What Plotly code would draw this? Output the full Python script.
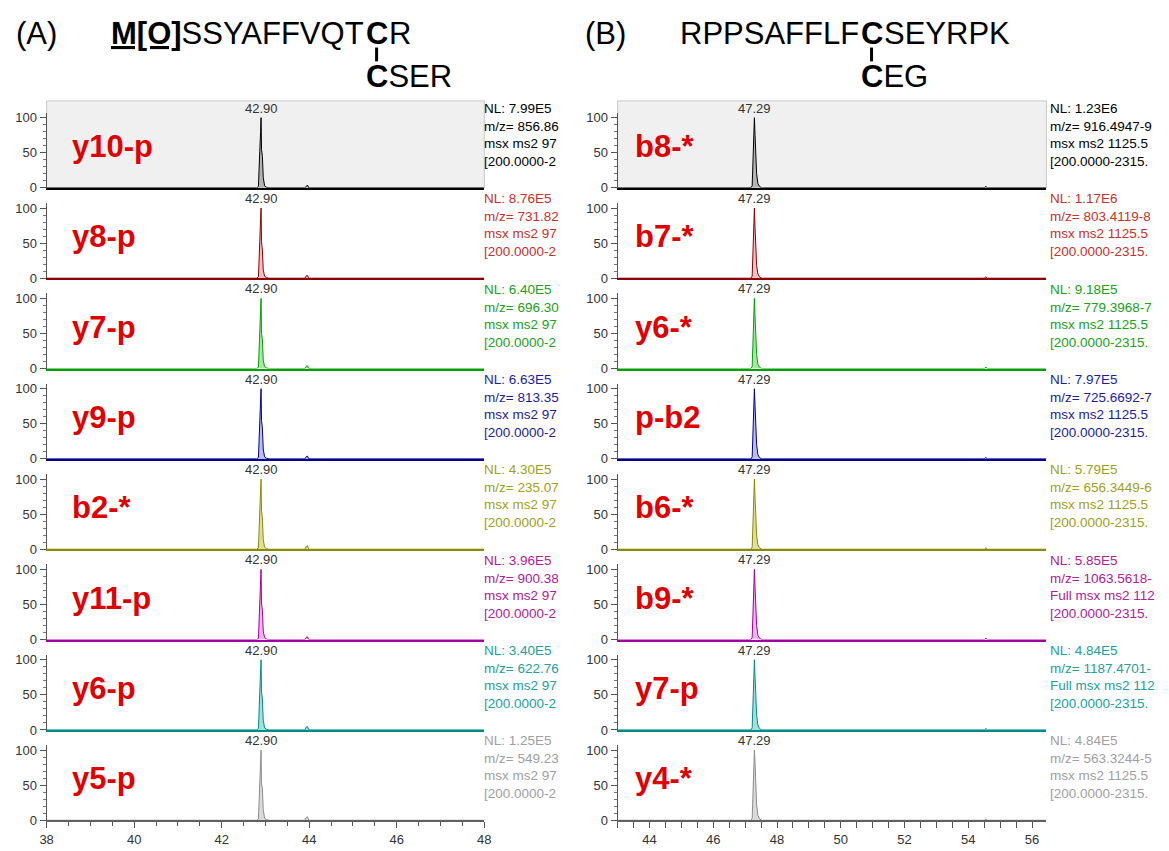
import plotly.graph_objects as go

# the page has an 8px body margin; the figure's right/bottom edges meet the window edge
OFF = 8
W, H = 1169 - OFF, 851 - OFF
FONT = "Liberation Sans, Arial, sans-serif"

# ---------------- data: panel A ----------------
times_A = [38.0, 42.80, 42.84, 42.86, 42.87, 42.89, 42.90, 42.91, 42.93, 42.95,
           42.98, 43.02, 43.08, 43.90, 43.93, 43.96, 43.99, 48.0]
int_A_y10p = [0, 0, 2, 50, 52, 80, 100, 55, 45, 15, 3, 1, 0, 0, 3, 4, 0, 0]
int_A_y8p = [0, 0, 2, 48, 55, 85, 100, 52, 40, 12, 3, 1, 0, 0, 3, 4, 0, 0]
int_A_y7p = [0, 0, 2, 50, 56, 84, 100, 50, 42, 12, 3, 1, 0, 0, 3, 4, 0, 0]
int_A_y9p = [0, 0, 2, 48, 55, 85, 100, 55, 44, 14, 3, 1, 0, 0, 3, 4, 0, 0]
int_A_b2 = [0, 0, 2, 50, 58, 86, 100, 54, 45, 14, 3, 1, 0, 0, 4, 5, 0, 0]
int_A_y11p = [0, 0, 2, 50, 55, 84, 100, 52, 42, 12, 3, 1, 0, 0, 3, 4, 0, 0]
int_A_y6p = [0, 0, 2, 52, 58, 86, 100, 55, 44, 14, 3, 1, 0, 0, 4, 5, 0, 0]
int_A_y5p = [0, 0, 2, 50, 55, 84, 100, 52, 45, 15, 3, 1, 0, 0, 4, 5, 0, 0]
intens_A = [int_A_y10p, int_A_y8p, int_A_y7p, int_A_y9p,
            int_A_b2, int_A_y11p, int_A_y6p, int_A_y5p]
labels_A = ["y10-p", "y8-p", "y7-p", "y9-p", "b2-*", "y11-p", "y6-p", "y5-p"]
nl_A = ["7.99E5", "8.76E5", "6.40E5", "6.63E5", "4.30E5", "3.96E5", "3.40E5", "1.25E5"]
mz_A = ["856.86", "731.82", "696.30", "813.35", "235.07", "900.38", "622.76", "549.23"]
scan_A = ["msx ms2 97"] * 8
range_A = ["[200.0000-2"] * 8
apex_A = "42.90"
apex_A_t = 42.90

# ---------------- data: panel B ----------------
times_B = [43.0, 47.18, 47.22, 47.25, 47.27, 47.29, 47.31, 47.33, 47.36, 47.40,
           47.45, 47.52, 54.50, 54.55, 54.60, 56.45]
int_B_b8 = [0, 0, 3, 55, 80, 100, 75, 45, 20, 6, 2, 0, 0, 2, 0, 0]
int_B_b7 = [0, 0, 3, 58, 82, 100, 72, 42, 18, 6, 2, 0, 0, 2, 0, 0]
int_B_y6 = [0, 0, 3, 55, 80, 100, 74, 44, 20, 6, 2, 0, 0, 2, 0, 0]
int_B_pb2 = [0, 0, 3, 60, 84, 100, 76, 45, 20, 6, 2, 0, 0, 2, 0, 0]
int_B_b6 = [0, 0, 3, 56, 80, 100, 74, 44, 19, 6, 2, 0, 0, 2, 0, 0]
int_B_b9 = [0, 0, 3, 58, 82, 100, 75, 45, 20, 6, 2, 0, 0, 2, 0, 0]
int_B_y7p = [0, 0, 3, 60, 85, 100, 76, 46, 21, 7, 2, 0, 0, 2, 0, 0]
int_B_y4 = [0, 0, 3, 62, 86, 100, 82, 50, 22, 7, 2, 0, 0, 2, 0, 0]
intens_B = [int_B_b8, int_B_b7, int_B_y6, int_B_pb2,
            int_B_b6, int_B_b9, int_B_y7p, int_B_y4]
labels_B = ["b8-*", "b7-*", "y6-*", "p-b2", "b6-*", "b9-*", "y7-p", "y4-*"]
nl_B = ["1.23E6", "1.17E6", "9.18E5", "7.97E5", "5.79E5", "5.85E5", "4.84E5", "4.84E5"]
mz_B = ["916.4947-9", "803.4119-8", "779.3968-7", "725.6692-7", "656.3449-6",
        "1063.5618-", "1187.4701-", "563.3244-5"]
scan_B = ["msx ms2 1125.5", "msx ms2 1125.5", "msx ms2 1125.5", "msx ms2 1125.5",
          "msx ms2 1125.5", "Full msx ms2 112", "Full msx ms2 112", "msx ms2 1125.5"]
range_B = ["[200.0000-2315."] * 8
apex_B = "47.29"
apex_B_t = 47.29

# ---------------- styles ----------------
line_colors = ["#000000", "#8b0000", "#00a000", "#00008b", "#8b8b00", "#a000a0", "#008b8b", "#8c8c8c"]
fill_colors = ["#b4b4b4", "#f4c0c0", "#a8e6a8", "#bcbcf0", "#dedea0", "#f2b4f2", "#a4dede", "#dadada"]
text_colors = ["#000000", "#c8302a", "#20a020", "#1c1ca0", "#a0a020", "#b0209c", "#20a0a0", "#a0a0a0"]
axis_colors = ["#000000", "#8b0000", "#00a000", "#00008b", "#8b8b00", "#a000a0", "#008b8b", "#606060"]
LABEL_RED = "#e00000"


def px(x):
    return (x - OFF) / W


def py(y):
    return 1 - (y - OFF) / H


base0, step, rowh = 188.0, 91.43, 76.0
panels = [
    dict(x0=40, x1=483, rng=[38, 48], tick0=38, times=times_A, intens=intens_A,
         labels=labels_A, nl=nl_A, mz=mz_A, scan=scan_A, rngtxt=range_A,
         apex=apex_A, apex_t=apex_A_t, lab_x=64, txt_x=481, minor_len=4),
    dict(x0=618, x1=1052, rng=[43, 56.45], tick0=44, times=times_B, intens=intens_B,
         labels=labels_B, nl=nl_B, mz=mz_B, scan=scan_B, rngtxt=range_B,
         apex=apex_B, apex_t=apex_B_t, lab_x=634, txt_x=1054, minor_len=6),
]

fig = go.Figure()
layout = dict(
    width=W, height=H,
    margin=dict(l=0, r=0, t=0, b=0),
    paper_bgcolor="white", plot_bgcolor="rgba(0,0,0,0)",
    showlegend=False,
    font=dict(family=FONT, size=13, color="#333333"),
)
annotations = []
shapes = []

k = 0
for p in panels:
    for i in range(8):
        k += 1
        base = base0 + i * step
        top = base - rowh
        xa = "xaxis" if k == 1 else f"xaxis{k}"
        ya = "yaxis" if k == 1 else f"yaxis{k}"
        xr = "x" if k == 1 else f"x{k}"
        yr = "y" if k == 1 else f"y{k}"
        last = i == 7
        xdict = dict(domain=[px(p["x0"]), px(p["x1"])], range=p["rng"], anchor=yr,
                     showline=True, linecolor=axis_colors[i], linewidth=2,
                     showgrid=False, zeroline=False, fixedrange=True)
        if last:
            xdict.update(ticks="outside", ticklen=6, tickcolor="#555555", tickwidth=1,
                         tick0=p["tick0"], dtick=2, showticklabels=True,
                         tickfont=dict(size=13, color="#333333", family=FONT),
                         minor=dict(ticks="outside", dtick=0.5, tick0=p["tick0"],
                                    ticklen=p["minor_len"], tickcolor="#555555"))
        else:
            xdict.update(ticks="", showticklabels=False)
        ydict = dict(domain=[py(base), py(top)], range=[0, 107], anchor=xr,
                     showline=True, linecolor="#555555", linewidth=1,
                     ticks="outside", ticklen=6, tickcolor="#555555",
                     tickvals=[0, 50, 100], showgrid=False, zeroline=False,
                     tickfont=dict(size=13, color="#333333", family=FONT),
                     minor=dict(ticks="outside", dtick=10, ticklen=3, tickcolor="#777777"),
                     fixedrange=True)
        layout[xa] = xdict
        layout[ya] = ydict

        fig.add_trace(go.Scatter(
            x=p["times"], y=p["intens"][i], mode="lines",
            line=dict(color=line_colors[i], width=1),
            fill="tozeroy", fillcolor=fill_colors[i],
            xaxis=xr, yaxis=yr, hoverinfo="skip"))

        # apex label
        annotations.append(dict(x=p["apex_t"], y=100, xref=xr, yref=yr,
                                text=p["apex"], showarrow=False, yanchor="bottom",
                                xanchor="center", yshift=0,
                                font=dict(size=13, color="#333333", family=FONT)))
        # ion label
        annotations.append(dict(x=px(p["lab_x"]), y=py(base - 42), xref="paper", yref="paper",
                                text=f"<b>{p['labels'][i]}</b>", showarrow=False,
                                xanchor="left", yanchor="middle",
                                font=dict(size=31, color=LABEL_RED, family=FONT)))
        # side text
        side = (f"NL: {p['nl'][i]}<br>m/z= {p['mz'][i]}<br>"
                f"{p['scan'][i]}<br>{p['rngtxt'][i]}")
        annotations.append(dict(x=px(p["txt_x"]), y=py(base - 90), xref="paper", yref="paper",
                                text=side, showarrow=False, xanchor="left", yanchor="top",
                                align="left",
                                font=dict(size=13.5, color=text_colors[i], family=FONT)))
    # highlighted top row box
    shapes.append(dict(type="rect", xref="paper", yref="paper",
                       x0=px(p["x0"]), x1=px(p["x1"]), y0=py(base0), y1=py(base0 - 88),
                       fillcolor="#f0f0f0", line=dict(color="#c8c8c8", width=1),
                       layer="below"))

# ---------------- headers ----------------
HS = 31


def hdr(text, x, y, xanchor):
    annotations.append(dict(x=px(x), y=py(y), xref="paper", yref="paper", text=text,
                            showarrow=False, xanchor=xanchor, yanchor="middle",
                            font=dict(size=HS, color="#000000", family=FONT)))


# Panel A header
hdr("(A)", 7, 32, "left")
cA = 374
hdr("<b><span style='text-decoration:underline'>M[O]</span></b>SSYAFFVQT", cA - 11, 32, "right")
hdr("<b>C</b>", cA, 32, "center")
hdr("R", cA + 11, 32, "left")
hdr("<b>C</b>SER", cA - 13, 75, "left")
shapes.append(dict(type="line", xref="paper", yref="paper", x0=px(cA), x1=px(cA),
                   y0=py(46), y1=py(60), line=dict(color="#000000", width=3), layer="above"))

# Panel B header
hdr("(B)", 583, 32, "left")
cB = 875
hdr("RPPSAFFLF", cB - 11, 32, "right")
hdr("<b>C</b>", cB, 32, "center")
hdr("SEYRPK", cB + 11, 32, "left")
hdr("<b>C</b>EG", cB - 13, 75, "left")
shapes.append(dict(type="line", xref="paper", yref="paper", x0=px(cB), x1=px(cB),
                   y0=py(46), y1=py(60), line=dict(color="#000000", width=3), layer="above"))

layout["annotations"] = annotations
layout["shapes"] = shapes
fig.update_layout(**layout)
fig.write_html("out.html")
